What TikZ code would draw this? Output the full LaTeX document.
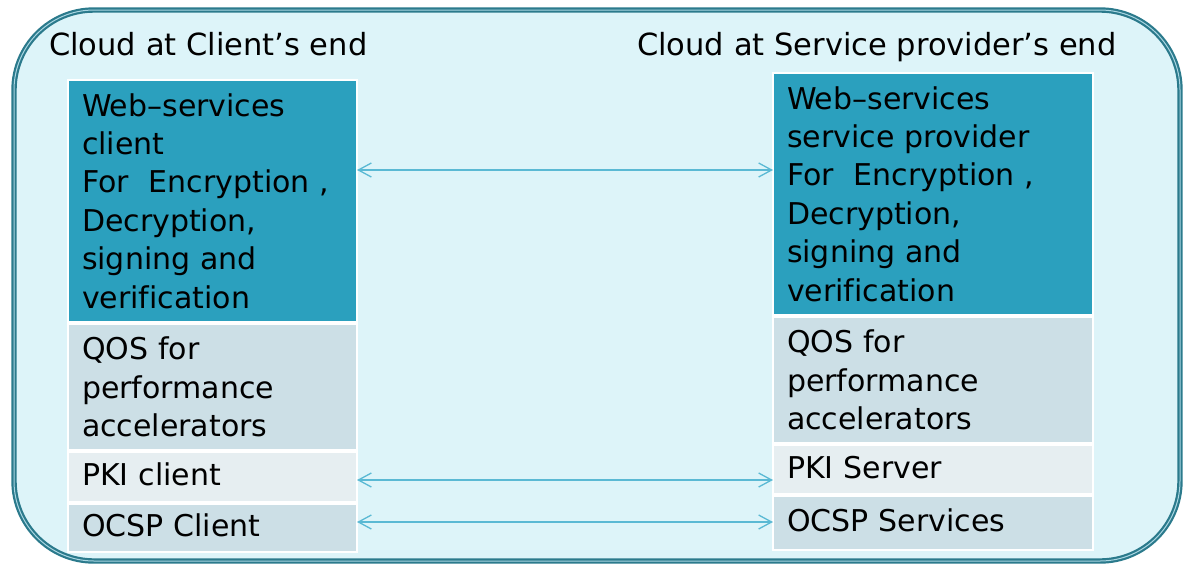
\documentclass[tikz,border=0pt]{standalone}
\usepackage{fontspec}
\setmainfont[Ligatures=NoCommon]{DejaVu Sans}
\usetikzlibrary{arrows.meta}
\definecolor{cloudfill}{HTML}{DDF4F9}
\definecolor{cloudedge}{HTML}{2B7A8C}
\definecolor{cloudinner}{HTML}{A9D6E2}
\definecolor{darkbox}{HTML}{2BA0BE}
\definecolor{qosbox}{HTML}{CCDFE6}
\definecolor{pkibox}{HTML}{E6EEF1}
\definecolor{arrowc}{HTML}{5AB9D4}
\begin{document}
\begin{tikzpicture}[x=1pt,y=-1pt,
  cloud/.style={draw=cloudedge, line width=2.2pt, double=cloudinner, double distance=1pt, fill=cloudfill, rounded corners=80pt},
  box/.style={draw=white, line width=1.5pt, outer sep=0pt, anchor=north west, align=left,
    inner xsep=14pt, inner ysep=0pt, font=\fontsize{30}{38.4}\selectfont},
  lbox/.style={box, minimum width=289pt, text width=261pt},
  rbox/.style={box, minimum width=320pt, text width=292pt},
  oneline/.style={text depth=5pt},
  title/.style={anchor=base west, inner sep=0pt, font=\fontsize{30.5}{36}\selectfont},
  arr/.style={draw=arrowc, line width=1.3pt, {Straight Barb[length=13pt,width=14pt]}-{Straight Barb[length=13pt,width=14pt]}}
]
\useasboundingbox (0,0) rectangle (1184,566);
\fill[white] (0,0) rectangle (1184,566);
\draw[cloud] (14,10) rectangle (1180,561);

\node[title] (tl) at (49,55) {Cloud at Client’s end};
\node[title] (tr) at (637,55) {Cloud at Service provider’s end};

% left column
\node[lbox, fill=darkbox, minimum height=242pt] (lweb) at (68,80)
  {Web–services\\client\\For\ \ Encryption\ ,\\Decryption,\\signing and\\verification\par\vspace{6pt}};
\node[lbox, fill=qosbox, minimum height=126pt] (lqos) at (68,324)
  {QOS for\\performance\\accelerators\par\vspace{6pt}};
\node[lbox, oneline, fill=pkibox, minimum height=50pt] (lpki) at (68,452) {PKI client};
\node[lbox, oneline, fill=qosbox, minimum height=48pt] (locsp) at (68,504) {OCSP Client};

% right column
\node[rbox, fill=darkbox, minimum height=242pt] (rweb) at (773,73)
  {Web–services\\service provider\\For\ \ Encryption\ ,\\Decryption,\\signing and\\verification\par\vspace{6pt}};
\node[rbox, fill=qosbox, minimum height=126pt] (rqos) at (773,317)
  {QOS for\\performance\\accelerators\par\vspace{6pt}};
\node[rbox, oneline, fill=pkibox, minimum height=49pt] (rpki) at (773,445) {PKI Server};
\node[rbox, oneline, fill=qosbox, minimum height=54pt] (rocsp) at (773,496) {OCSP Services};

% connectors
\draw[arr] ([yshift=31pt]lweb.east) -- ([yshift=31pt]lweb.east -| rweb.west);
\draw[arr] ([yshift=-3pt]lpki.east) -- ([yshift=-3pt]lpki.east -| rpki.west);
\draw[arr] ([yshift=6pt]locsp.east) -- ([yshift=6pt]locsp.east -| rocsp.west);
\end{tikzpicture}
\end{document}
